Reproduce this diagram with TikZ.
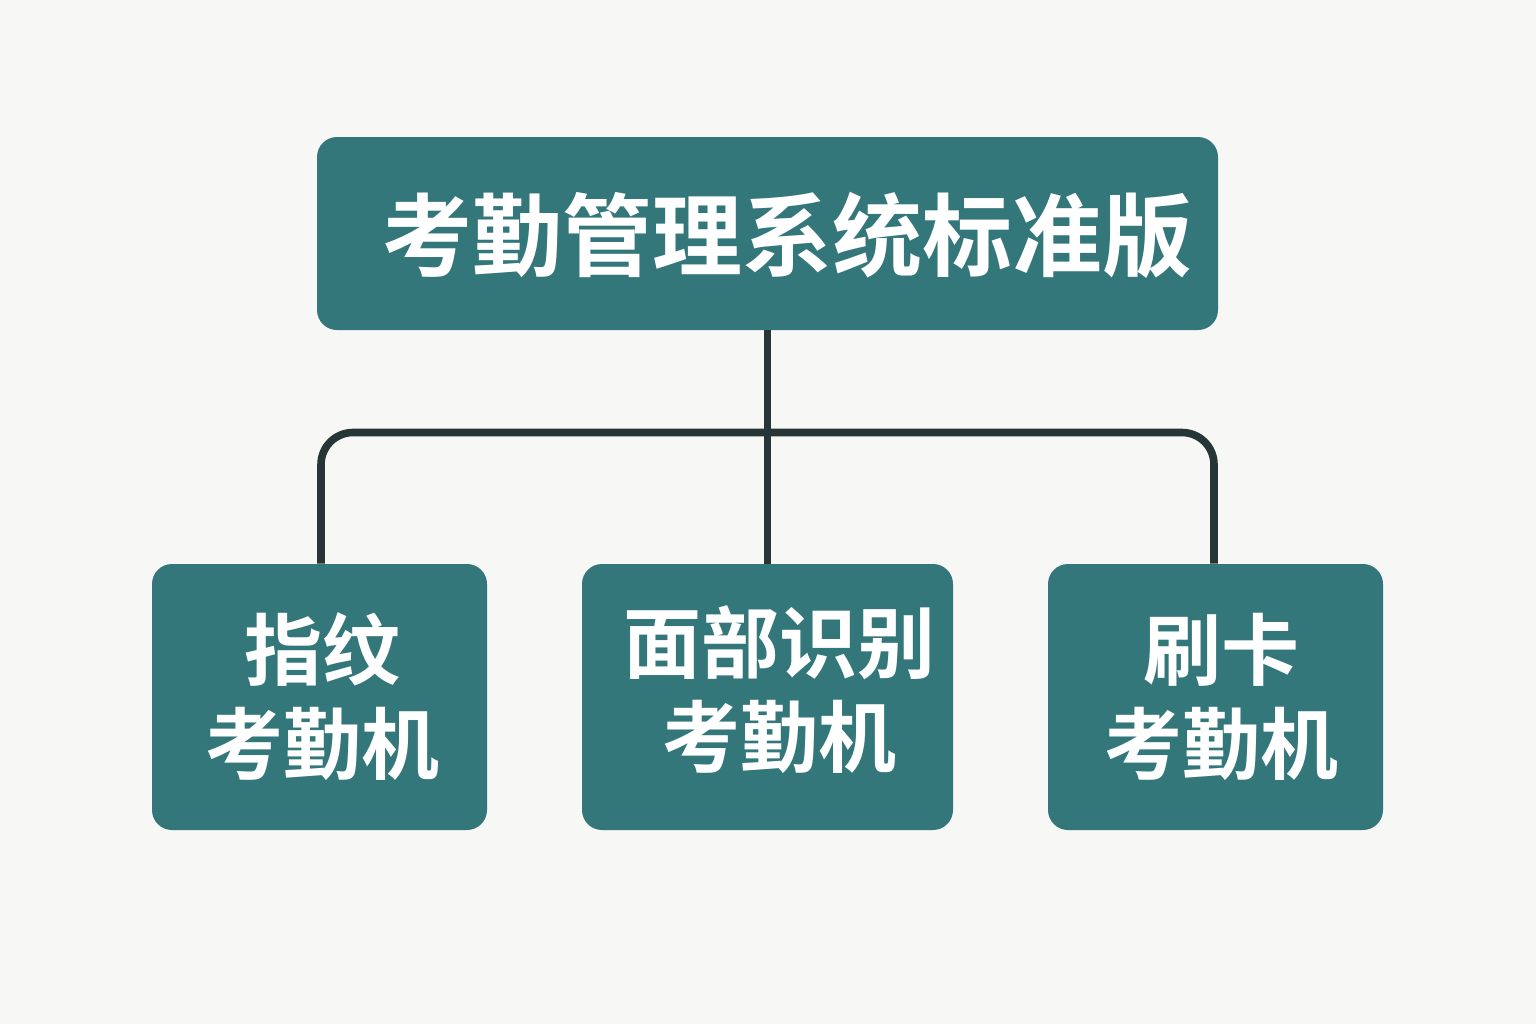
\documentclass[tikz,border=0pt]{standalone}
\usepackage{fontspec}
\newfontfamily\cjk{Noto Sans CJK SC Bold}
\definecolor{bgc}{HTML}{F7F7F5}
\definecolor{teal1}{HTML}{33777A}
\definecolor{linec}{HTML}{263636}
\begin{document}
\begin{tikzpicture}[x=0.5pt,y=-0.5pt,
  box/.style={fill=teal1,draw=none,rounded corners=10pt,inner sep=0pt},
  ttl/.style={text=white,font=\cjk\fontsize{45pt}{50pt}\selectfont},
  sub/.style={text=white,font=\cjk\fontsize{39pt}{47pt}\selectfont,align=center},
  conn/.style={draw=linec,line width=3.8pt}]
\fill[bgc] (0,0) rectangle (1536,1024);
\useasboundingbox (0,0) rectangle (1536,1024);
\node[box,minimum width=450.5pt,minimum height=96.5pt] (top) at (767.5,233.5) {};
\node[ttl] (toptext) at (787,235) {考勤管理系统标准版};
\node[box,minimum width=167.5pt,minimum height=133pt] (b1) at (319.5,697) {};
\node[box,minimum width=185.5pt,minimum height=133pt] (b2) at (767.5,697) {};
\node[box,minimum width=167.5pt,minimum height=133pt] (b3) at (1215.5,697) {};
\node[sub] (t1) at (322,697) {指纹\\考勤机};
\node[sub] (t2) at (779,690) {面部识别\\考勤机};
\node[sub] (t3) at (1221,697) {刷卡\\考勤机};
\coordinate (j) at (768,432.5);
\draw[conn] (top.south) -- (b2.north);
\draw[conn,rounded corners=16pt] ([xshift=0.75pt]b1.north) -- ([xshift=0.75pt]b1.north |- j) -- ([xshift=-0.75pt]b3.north |- j) -- ([xshift=-0.75pt]b3.north);
\end{tikzpicture}
\end{document}
